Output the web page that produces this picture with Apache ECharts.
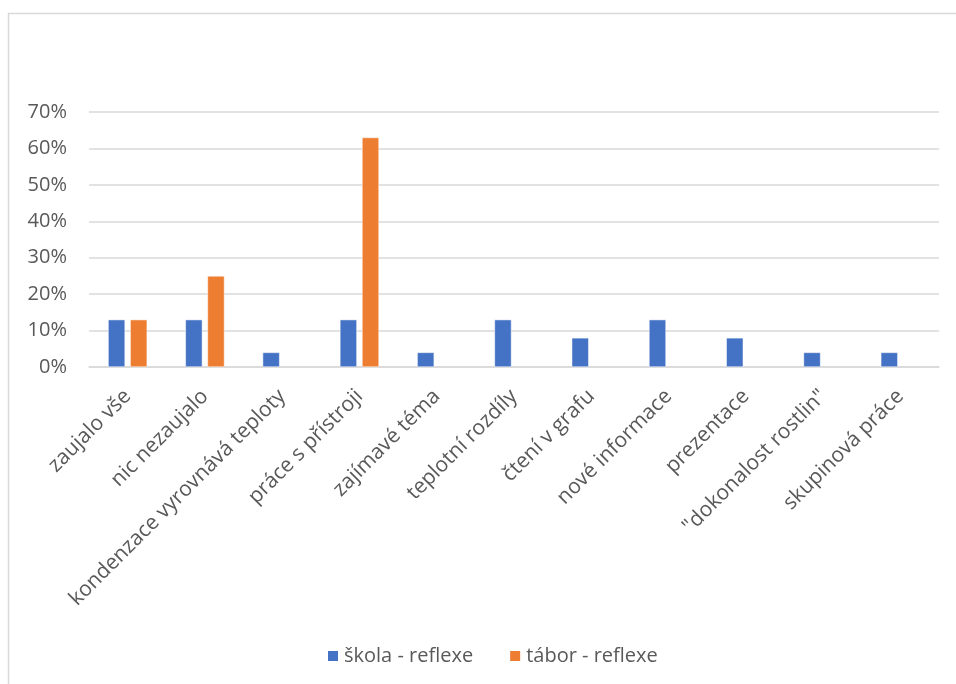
<!DOCTYPE html>
<html>
<head>
<meta charset="utf-8">
<script src="https://cdn.jsdelivr.net/npm/echarts@6/dist/echarts.min.js"></script>
<style>
html,body{margin:0;padding:0;background:#fff;}
#chart{width:956px;height:684px;}
</style>
</head>
<body>
<div id="chart"></div>
<script>
const categories = ["zaujalo vše","nic nezaujalo","kondenzace vyrovnává teploty","práce s přístroji","zajímavé téma","teplotní rozdíly","čtení v grafu","nové informace","prezentace","\"dokonalost rostlin\"","skupinová práce"];
const seriesNames = ["škola - reflexe","tábor - reflexe"];
const skola = [13,13,4,13,4,13,8,13,8,4,4];
const tabor = [13,25,null,63,null,null,null,null,null,null,null];
const yTicks = {min:0, max:70, interval:10};

const textColor = '#595959';
const font = '"Open Sans", sans-serif';
const chart = echarts.init(document.getElementById('chart'), null, {renderer:'canvas'});
chart.setOption({
  animation:false,
  backgroundColor:'#fff',
  color:['#4472C4','#ED7D31'],
  graphic:[{type:'rect', shape:{x:8.5,y:13.5,width:1000,height:1000}, style:{fill:'none',stroke:'#d9d9d9',lineWidth:1.5}, silent:true}],
  grid:{left:89,right:17,top:112,bottom:317,containLabel:false},
  legend:{left:321,top:641,itemWidth:12,itemHeight:12,itemGap:35,
    textStyle:{color:textColor,fontSize:20,fontFamily:font,padding:[0,0,0,0]},
    icon:'rect', data:seriesNames},
  xAxis:{type:'category',data:categories,
    axisLine:{lineStyle:{color:'#d9d9d9',width:1.5}},axisTick:{show:false},
    axisLabel:{interval:0,rotate:45,margin:26,color:textColor,fontSize:21,fontFamily:font}},
  yAxis:{type:'value',min:yTicks.min,max:yTicks.max,interval:yTicks.interval,
    axisLine:{show:false},axisTick:{show:false},
    splitLine:{lineStyle:{color:'#d9d9d9',width:1.5}},
    axisLabel:{formatter:'{value}%',margin:22,color:textColor,fontSize:20,fontFamily:font}},
  series:[
    {name:seriesNames[0],type:'bar',data:skola,barWidth:17,barGap:'30%',itemStyle:{borderColor:'#ffffff',borderWidth:0.5}},
    {name:seriesNames[1],type:'bar',data:tabor,barWidth:17,barGap:'30%',itemStyle:{borderColor:'#ffffff',borderWidth:0.5}}
  ]
});
</script>
</body>
</html>
